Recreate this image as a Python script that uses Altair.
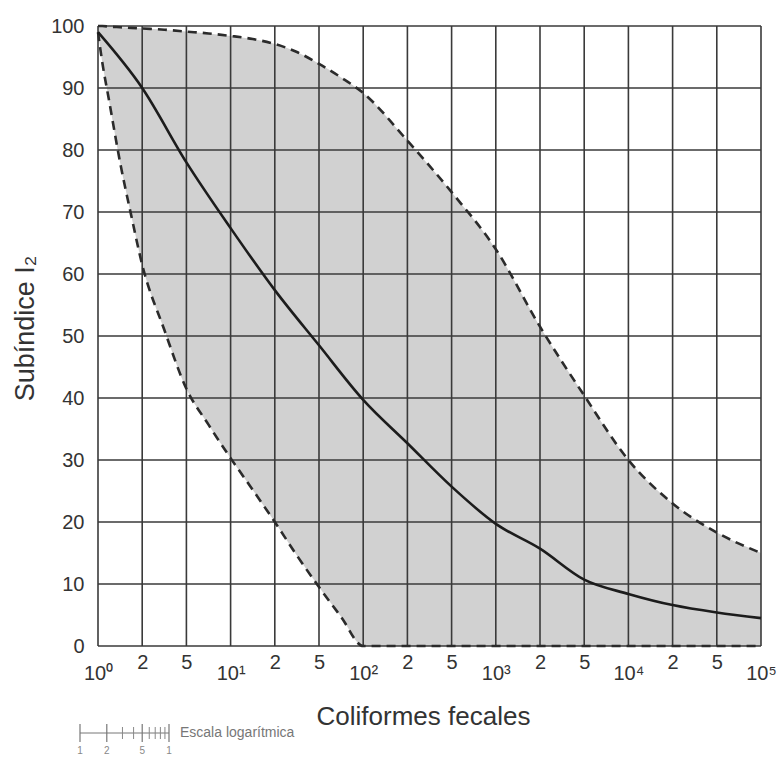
import altair as alt
import pandas as pd

# ---- axis ticks / labels ----
x_ticks = [1, 2, 5, 10, 20, 50, 100, 200, 500, 1000, 2000, 5000, 10000, 20000, 50000, 100000]
x_tick_labels = ["10⁰", "2", "5", "10¹", "2", "5", "10²", "2", "5", "10³", "2", "5", "10⁴", "2", "5", "10⁵"]
decades = [1, 10, 100, 1000, 10000, 100000]
y_ticks = [0, 10, 20, 30, 40, 50, 60, 70, 80, 90, 100]

# ---- envelope (dashed limits, shaded band) ----
env_x = [1, 1.1, 1.25, 1.5, 1.75, 2, 3.5, 5, 7.5, 10, 15, 20, 35, 50, 75, 100,
         200, 500, 1000, 2000, 5000, 10000, 20000, 50000, 100000]
env_lower = [99, 94, 88, 78, 69.5, 61.5, 51, 41.5, 35.7, 30.3, 25.2, 20.0, 14.6, 9.5, 4.7, 0,
             0, 0, 0, 0, 0, 0, 0, 0, 0]
env_upper = [100, 100, 99.9, 99.8, 99.7, 99.6, 99.4, 99.1, 98.8, 98.4, 97.9, 97.1, 95.8, 93.9, 91.7, 89.2,
             81.5, 73.2, 64.0, 51.5, 40.4, 30.0, 23.0, 18.3, 15.0]

# ---- mean curve ----
mean_x = [1, 2, 5, 10, 20, 50, 100, 200, 500, 1000, 2000, 5000, 10000, 20000, 50000, 100000]
mean_y = [99, 90, 78, 67.4, 57.4, 48.5, 39.7, 32.7, 25.7, 19.7, 15.7, 10.7, 8.4, 6.6, 5.4, 4.5]

# ---- small logarithmic ruler legend ----
ruler_major = [1, 2, 5, 10]
ruler_major_labels = ["1", "2", "5", "1"]
ruler_minor = [3, 4, 6, 7, 8, 9]

W, H = 663, 620
FONT = "Liberation Sans"
TXT = "#333333"
GRID = "#3a3a3a"

env_df = pd.DataFrame({"x": env_x, "lower": env_lower, "upper": env_upper})
mean_df = pd.DataFrame({"x": mean_x, "y": mean_y})
xgrid_df = pd.DataFrame({"x": x_ticks})
ygrid_df = pd.DataFrame({"y": y_ticks})

xscale = alt.Scale(domain=x_ticks, range=[i * W / (len(x_ticks) - 1) for i in range(len(x_ticks))],
                   zero=False, nice=False)
yscale = alt.Scale(domain=[0, 100], nice=False, zero=False)

label_expr = "[" + ",".join("'%s'" % s for s in x_tick_labels) + "][indexof([" + \
    ",".join(str(v) for v in x_ticks) + "], datum.value)]"
dec_test = "indexof([" + ",".join(str(v) for v in decades) + "], datum.value) >= 0"

xaxis = alt.Axis(values=x_ticks, labelExpr=label_expr, grid=False, ticks=False, tickSize=0,
                 domain=False, labelFlush=False, labelOverlap=False, labelFont=FONT,
                 labelFontSize=20, labelColor=TXT,
                 labelPadding={"condition": {"test": dec_test, "value": 17}, "value": 6},
                 title="Coliformes fecales", titleFont=FONT, titleFontSize=26,
                 titleFontWeight="normal", titleColor=TXT, titleX=325, titleY=70,
                 titleBaseline="middle", titleAlign="center")
yaxis = alt.Axis(values=y_ticks, grid=False, ticks=False, tickSize=0, domain=False,
                 labelFont=FONT, labelFontSize=20, labelColor=TXT, labelPadding=14,
                 title="Subíndice I₂", titleFont=FONT, titleFontSize=27, titleFontWeight="normal",
                 titleColor=TXT, titleAngle=-90, titleX=-73, titleY=302,
                 titleBaseline="middle", titleAlign="center")

X = alt.X("x:Q", scale=xscale, axis=xaxis, title="Coliformes fecales")


def Y(field):
    return alt.Y(field, scale=yscale, axis=yaxis, title="Subíndice I₂")


band = alt.Chart(env_df).mark_area(color="#d1d1d1", interpolate="monotone").encode(
    x=X, y=Y("lower:Q"), y2="upper:Q")
vgrid = alt.Chart(xgrid_df).mark_rule(color=GRID, strokeWidth=1.6).encode(x=X)
hgrid = alt.Chart(ygrid_df).mark_rule(color=GRID, strokeWidth=1.6).encode(y=Y("y:Q"))
lower_line = alt.Chart(env_df).mark_line(color="#2b2b2b", strokeWidth=2.6, strokeDash=[9, 6],
                                         interpolate="monotone").encode(x=X, y=Y("lower:Q"))
upper_line = alt.Chart(env_df).mark_line(color="#2b2b2b", strokeWidth=2.6, strokeDash=[9, 6],
                                         interpolate="monotone").encode(x=X, y=Y("upper:Q"))
mean_line = alt.Chart(mean_df).mark_line(color="#1c1c1c", strokeWidth=2.6,
                                         interpolate="monotone").encode(x=X, y=Y("y:Q"))

main = alt.layer(band, vgrid, hgrid, lower_line, upper_line, mean_line)

# ruler legend with its own log scale
rscale = alt.Scale(type="log", domain=[1, 10], range=[-18, 71])
RY = 707
ruler_base = alt.Chart(pd.DataFrame({"a": [ruler_major[0]], "b": [ruler_major[-1]]})).mark_rule(
    color="#777777", strokeWidth=1).encode(
    x=alt.X("a:Q", scale=rscale, axis=None), x2="b:Q", y=alt.value(RY))
ruler_maj = alt.Chart(pd.DataFrame({"r": ruler_major})).mark_rule(
    color="#777777", strokeWidth=1.2).encode(
    x=alt.X("r:Q", scale=rscale, axis=None), y=alt.value(RY - 9), y2=alt.value(RY + 9))
ruler_min = alt.Chart(pd.DataFrame({"r": ruler_minor})).mark_rule(
    color="#888888", strokeWidth=1).encode(
    x=alt.X("r:Q", scale=rscale, axis=None), y=alt.value(RY - 6), y2=alt.value(RY + 6))
ruler_lab = alt.Chart(pd.DataFrame({"r": ruler_major, "t": ruler_major_labels})).mark_text(
    font=FONT, fontSize=10, color="#888888", baseline="middle").encode(
    x=alt.X("r:Q", scale=rscale, axis=None), y=alt.value(RY + 18), text="t:N")
ruler_title = alt.Chart(pd.DataFrame({"t": ["Escala logarítmica"]})).mark_text(
    font=FONT, fontSize=14, color="#777777", align="left", baseline="middle").encode(
    x=alt.value(82), y=alt.value(RY), text="t:N")

ruler = alt.layer(ruler_base, ruler_maj, ruler_min, ruler_lab, ruler_title)

chart = alt.layer(main, ruler).resolve_scale(x="independent").properties(
    width=W, height=H,
    autosize=alt.AutoSizeParams(type="none"),
    padding={"left": 98, "top": 26, "right": 19, "bottom": 113},
    background="white",
).configure_view(strokeWidth=0)

chart.save("out.html", embed_options={"renderer": "svg", "actions": False})
